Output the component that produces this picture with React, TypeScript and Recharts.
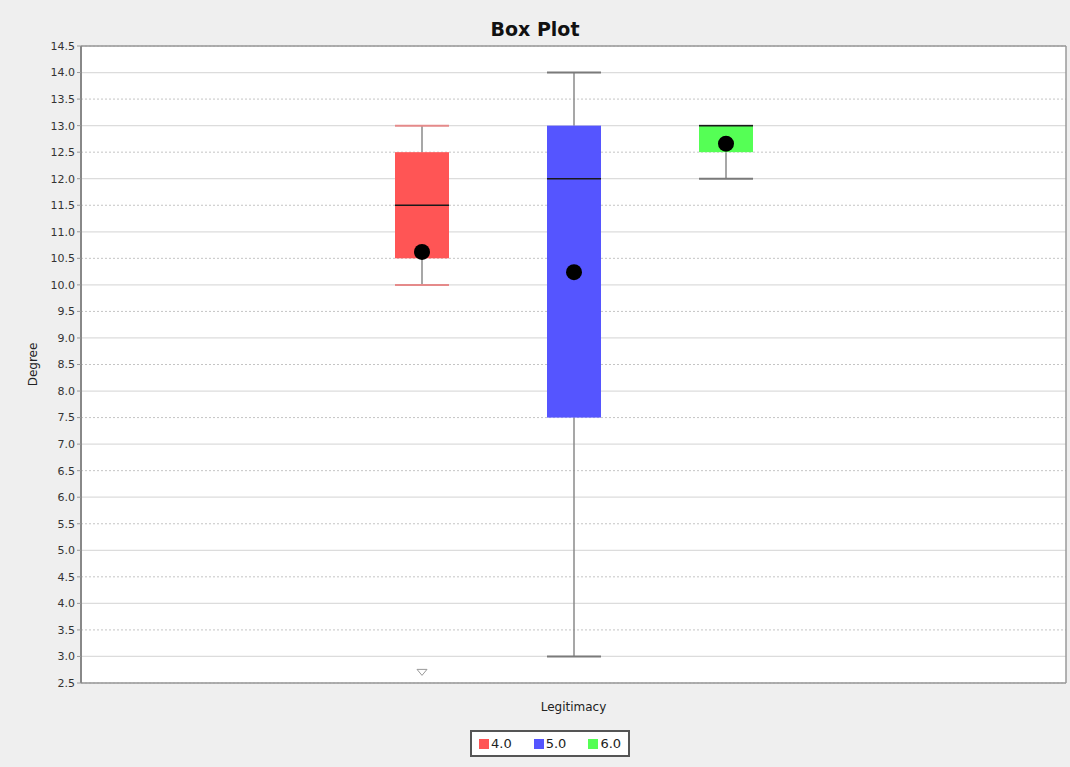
import React from "react";
import {
  BarChart,
  Bar,
  XAxis,
  YAxis,
  CartesianGrid,
  ReferenceLine,
} from "recharts";

// series (one box per legend entry), all inside the single "Legitimacy" category
const seriesNames = ["4.0", "5.0", "6.0"];
const seriesColors = ["#ff5555", "#5555ff", "#55ff55"];
const whiskerLow = [10, 3, 12];
const q1 = [10.5, 7.5, 12.5];
const median = [11.5, 12, 13];
const q3 = [12.5, 13, 13];
const whiskerHigh = [13, 14, 13];
const mean = [10.62, 10.24, 12.66];
const farOut = [[2.7], [], []];

const yTicks = [
  2.5, 3, 3.5, 4, 4.5, 5, 5.5, 6, 6.5, 7, 7.5, 8, 8.5, 9, 9.5, 10, 10.5, 11,
  11.5, 12, 12.5, 13, 13.5, 14, 14.5,
];
const intTicks = yTicks.filter((t) => Number.isInteger(t));
const halfTicks = yTicks.filter((t) => !Number.isInteger(t));

const row: Record<string, any> = { name: "Legitimacy" };
seriesNames.forEach((s, i) => {
  row[`s${i}`] = [q1[i], q3[i]];
});
const data = [row];

const FONT = "'DejaVu Sans', sans-serif";

// draws whole box plot from the ranged bar (q1..q3) geometry
const makeBox = (i: number) => (props: any) => {
  const { x, y, width, height } = props;
  const ppu = height / (q3[i] - q1[i]);
  const py = (v: number) => y + (q3[i] - v) * ppu;
  const cx = x + width / 2;
  const capColor = i === 0 ? "#e58a8a" : "#7a7a7a";
  return (
    <g>
      <line x1={cx} x2={cx} y1={py(whiskerHigh[i])} y2={py(q3[i])} stroke="#8a8a8a" strokeWidth={1.5} />
      <line x1={cx} x2={cx} y1={py(q1[i])} y2={py(whiskerLow[i])} stroke="#8a8a8a" strokeWidth={1.5} />
      <line x1={x} x2={x + width} y1={py(whiskerHigh[i])} y2={py(whiskerHigh[i])} stroke={capColor} strokeWidth={2} />
      <line x1={x} x2={x + width} y1={py(whiskerLow[i])} y2={py(whiskerLow[i])} stroke={capColor} strokeWidth={2} />
      <rect x={x} y={y} width={width} height={height} fill={seriesColors[i]} />
      <line x1={x} x2={x + width} y1={py(median[i])} y2={py(median[i])} stroke="#1a1a1a" strokeWidth={1.5} />
      <circle cx={cx} cy={py(mean[i])} r={8} fill="#000" />
      {farOut[i].map((v, k) => (
        <path
          key={k}
          d={`M${cx - 5},${py(v) - 3} L${cx + 5},${py(v) - 3} L${cx},${py(v) + 3} Z`}
          fill="none"
          stroke="#999"
          strokeWidth={1}
        />
      ))}
    </g>
  );
};

const LegendBox = () => (
  <div
    style={{
      position: "absolute",
      left: 470,
      top: 730,
      height: 23,
      display: "flex",
      alignItems: "center",
      gap: 22,
      border: "2px solid #555",
      background: "#fff",
      padding: "0 7px",
      fontFamily: FONT,
      fontSize: 13,
      color: "#222",
    }}
  >
    {seriesNames.map((s, i) => (
      <span key={s} style={{ display: "inline-flex", alignItems: "center" }}>
        <span
          style={{
            width: 10,
            height: 10,
            background: seriesColors[i],
            display: "inline-block",
            marginRight: 2,
          }}
        />
        {s}
      </span>
    ))}
  </div>
);

export default function App() {
  return (
    <div
      style={{
        position: "absolute",
        left: 0,
        top: 0,
        width: 1070,
        height: 767,
        background: "#efefef",
        overflow: "hidden",
      }}
    >
      <div
        style={{
          position: "absolute",
          top: 18,
          left: 0,
          width: 1070,
          textAlign: "center",
          fontFamily: FONT,
          fontWeight: "bold",
          fontSize: 19,
          color: "#111",
        }}
      >
        Box Plot
      </div>
      <BarChart
        width={1070}
        height={767}
        data={data}
        margin={{ top: 46, right: 0, left: 21, bottom: 54 }}
        barGap={98}
        barSize={54}
      >
        <CartesianGrid
          yAxisId="int"
          vertical={false}
          fill="#ffffff"
          stroke="#dcdcdc"
          strokeWidth={1.2}
        />
        <CartesianGrid
          yAxisId="half"
          vertical={false}
          stroke="#c4c4c4"
          strokeDasharray="2 2"
        />
        <XAxis
          dataKey="name"
          tick={false}
          tickLine={false}
          axisLine={false}
          height={30}
          label={{
            value: "Legitimacy",
            position: "insideBottom",
            offset: 2,
            style: { fontFamily: FONT, fontSize: 12, fill: "#222" },
          }}
        />
        <YAxis
          yAxisId="left"
          width={60}
          domain={[2.5, 14.5]}
          ticks={yTicks}
          interval={0}
          allowDataOverflow
          tickFormatter={(v: number) => v.toFixed(1)}
          tick={{ fontSize: 11, fill: "#333", fontFamily: FONT }}
          tickSize={4}
          tickLine={{ stroke: "#999" }}
          axisLine={{ stroke: "#888", strokeWidth: 2 }}
          label={{
            value: "Degree",
            angle: -90,
            position: "insideLeft",
            offset: 12,
            style: { fontFamily: FONT, fontSize: 12, fill: "#222", textAnchor: "middle" },
          }}
        />
        <YAxis yAxisId="int" hide width={0} domain={[2.5, 14.5]} ticks={intTicks} interval={0} allowDataOverflow />
        <YAxis yAxisId="half" hide width={0} domain={[2.5, 14.5]} ticks={halfTicks} interval={0} allowDataOverflow />
        <YAxis
          yAxisId="right"
          orientation="right"
          width={4}
          domain={[2.5, 14.5]}
          tick={false}
          tickLine={false}
          axisLine={{ stroke: "#9a9a9a", strokeWidth: 1.5 }}
        />
        <ReferenceLine yAxisId="left" y={14.5} stroke="#9a9a9a" strokeWidth={1.5} />
        <ReferenceLine yAxisId="left" y={2.5} stroke="#9a9a9a" strokeWidth={1.5} />
        {seriesNames.map((s, i) => (
          <Bar
            key={s}
            yAxisId="left"
            dataKey={`s${i}`}
            name={s}
            fill={seriesColors[i]}
            shape={makeBox(i)}
            isAnimationActive={false}
          />
        ))}
      </BarChart>
      <LegendBox />
    </div>
  );
}
